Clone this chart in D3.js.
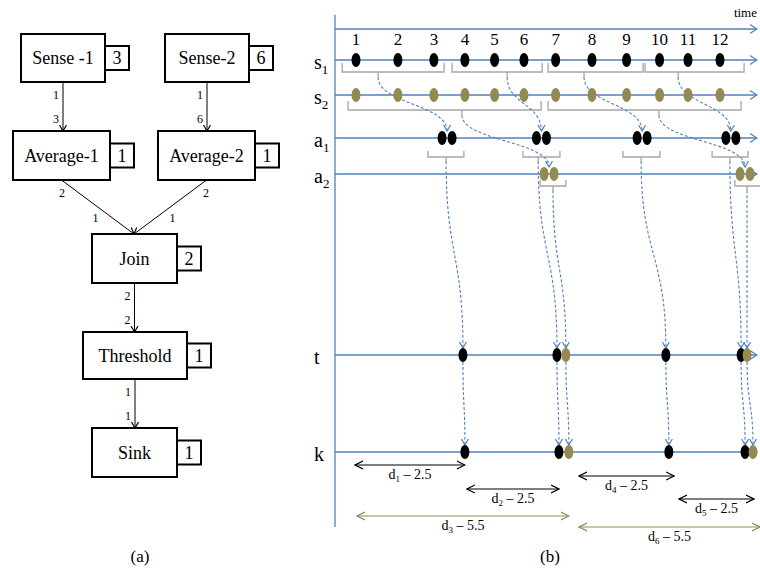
<!DOCTYPE html>
<html>
<head>
<meta charset="utf-8">
<script src="https://cdn.jsdelivr.net/npm/d3@7"></script>
<style>
  body { margin: 0; background: #fff; }
  svg text { font-family: "Liberation Serif", "Times New Roman", Times, "DejaVu Serif", serif; }
</style>
</head>
<body>
<svg id="chart" width="760" height="577"></svg>
<script>
// ---------- data: (a) operator graph ----------
const nodeNames  = ["Sense -1", "Sense-2", "Average-1", "Average-2", "Join", "Threshold", "Sink"];
const nodeCounts = [3, 6, 1, 1, 2, 1, 1];
const edgeList   = [[0, 2], [1, 3], [2, 4], [3, 4], [4, 5], [5, 6]];
const edgeOut    = [1, 1, 2, 2, 2, 1];
const edgeIn     = [3, 6, 1, 1, 2, 1];

// ---------- data: (b) timeline (time units) ----------
const tickLabels  = ["1", "2", "3", "4", "5", "6", "7", "8", "9", "10", "11", "12"];
const sampleTimes = [1.0, 2.27, 3.36, 4.3, 5.2, 6.09, 7.05, 8.15, 9.2, 10.2, 11.06, 12.03];
// windows: [from, to, tick]
const s1Windows = [[0.58, 3.67, 1.67], [3.91, 6.64, 5.58], [6.82, 9.7, 7.91], [9.76, 12.76, 10.76]];
const s2Windows = [[0.76, 6.61, 4.21], [6.82, 12.67, 10.18]];
const a1Windows = [[3.18, 4.27, 3.73], [6.06, 7.18, 6.52], [9.09, 10.21, 9.64], [11.79, 12.88, 12.33]];
const a2Windows = [[6.58, 7.36, 6.97], [12.48, 13.4, 12.85]];
const a1Outputs = [3.76, 6.62, 9.67, 12.36];
const a2Outputs = [6.85, 12.79];
const tBlack = [4.24, 7.09, 10.39, 12.67];
const tOlive = [7.36, 12.85];
const kBlack = [4.30, 7.15, 10.48, 12.79];
const kOlive = [7.45, 13.03];
// delays
const delayNames  = ["1", "2", "3", "4", "5", "6"];
const delayValues = [2.5, 2.5, 5.5, 2.5, 2.5, 5.5];
const delayFrom   = [0.97, 4.36, 1.03, 7.76, 10.79, 7.76];
const delayTo     = [4.30, 7.15, 7.45, 10.64, 13.06, 13.24];
const delayKind   = ["single", "single", "joint", "single", "single", "joint"];

// ---------- layout ----------
const nodeBoxes = [
  [21, 34, 84, 48], [165, 34, 84, 48],
  [13, 131, 97, 49], [158, 131, 97, 49],
  [92, 234, 85, 49], [83, 332, 104, 47], [92, 428, 85, 49]
];
const lane = { s1: 60, s2: 95, a1: 138, a2: 174, t: 355, k: 452 };
const delayRowY = [465, 489, 516, 476, 499, 527];

const BLUE = "#4f81bd", OLIVE = "#938953", GRAY = "#a6a6a6";
const SERIF = "'Liberation Serif', 'Times New Roman', Times, 'DejaVu Serif', serif";

const svg = d3.select("#chart").attr("font-family", SERIF);
const defs = svg.append("defs");

function chevron(id, color, len, half) {
  defs.append("marker")
    .attr("id", id)
    .attr("viewBox", `0 ${-half - 1} ${len + 1} ${2 * half + 2}`)
    .attr("refX", len).attr("refY", 0)
    .attr("markerUnits", "userSpaceOnUse")
    .attr("markerWidth", len + 1).attr("markerHeight", 2 * half + 2)
    .attr("orient", "auto-start-reverse")
    .append("path")
    .attr("d", `M0,${-half}L${len},0L0,${half}`)
    .attr("fill", "none").attr("stroke", color).attr("stroke-width", 1.2);
}
chevron("arBlack", "#000", 6, 3.5);
chevron("arBlue", BLUE, 6, 3.5);
chevron("arLane", BLUE, 7, 4.5);
chevron("arDimBlack", "#000", 8, 4);
chevron("arDimOlive", OLIVE, 8, 4);

// ================= (a) =================
const ga = svg.append("g");
const nodes = nodeNames.map((n, i) => {
  const [x, y, w, h] = nodeBoxes[i];
  return { name: n, count: nodeCounts[i], x, y, w, h, cx: x + w / 2 };
});

const edges = edgeList.map(([s, t], i) => ({
  s: nodes[s], t: nodes[t], out: edgeOut[i], inp: edgeIn[i]
}));

edges.forEach(e => {
  const sx = e.s.cx, sy = e.s.y + e.s.h, ty = e.t.y;
  let tx = e.t.cx;
  if (e.t.name === "Join") tx = 134;
  const vertical = Math.abs(tx - sx) < 5;
  if (vertical) tx = sx;
  ga.append("line")
    .attr("x1", sx).attr("y1", sy).attr("x2", tx).attr("y2", ty)
    .attr("stroke", "#000").attr("stroke-width", 1)
    .attr("marker-end", "url(#arBlack)");
  const lineX = y => sx + (tx - sx) * (y - sy) / (ty - sy);
  const dx = tx - sx;
  const yOut = sy + 17, yIn = ty - (vertical ? 8 : 12);
  [[yOut, e.out], [yIn, e.inp]].forEach(([y, v]) => {
    const t = ga.append("text").attr("y", y).attr("font-size", 12).text(v);
    if (vertical) t.attr("x", sx - 4).attr("text-anchor", "end");
    else t.attr("x", lineX(y - 4) - Math.sign(dx) * 17).attr("text-anchor", "middle");
  });
});

nodes.forEach(n => {
  ga.append("rect").attr("x", n.x).attr("y", n.y).attr("width", n.w).attr("height", n.h)
    .attr("fill", "#fff").attr("stroke", "#000").attr("stroke-width", 2);
  ga.append("text").attr("x", n.cx).attr("y", n.y + n.h / 2 + 6)
    .attr("text-anchor", "middle").attr("font-size", 18).text(n.name);
  const by = n.y + n.h / 2 - 12;
  ga.append("rect").attr("x", n.x + n.w).attr("y", by).attr("width", 24).attr("height", 24)
    .attr("fill", "#fff").attr("stroke", "#000").attr("stroke-width", 2);
  ga.append("text").attr("x", n.x + n.w + 12).attr("y", by + 18)
    .attr("text-anchor", "middle").attr("font-size", 18).text(n.count);
});

svg.append("text").attr("x", 140).attr("y", 562).attr("text-anchor", "middle")
  .attr("font-size", 17).text("(a)");

// ================= (b) =================
const gb = svg.append("g");
const x = d3.scaleLinear().domain([0, 13]).range([323, 752]);
const link = d3.linkVertical().x(d => d[0]).y(d => d[1]);

// axes
gb.append("line").attr("x1", 335).attr("x2", 335).attr("y1", 15).attr("y2", 527)
  .attr("stroke", BLUE).attr("stroke-width", 1.3);
gb.append("line").attr("x1", 335).attr("x2", 757).attr("y1", 29).attr("y2", 29)
  .attr("stroke", BLUE).attr("stroke-width", 1.3).attr("marker-end", "url(#arLane)");
gb.append("text").attr("x", 757).attr("y", 17).attr("text-anchor", "end")
  .attr("font-size", 13).text("time");

gb.selectAll(".tick").data(tickLabels).enter().append("text")
  .attr("x", (d, i) => x(sampleTimes[i])).attr("y", 45)
  .attr("text-anchor", "middle").attr("font-size", 17).text(d => d);

// lanes
const laneInfo = [["s", "1", lane.s1], ["s", "2", lane.s2], ["a", "1", lane.a1],
                  ["a", "2", lane.a2], ["t", "", lane.t], ["k", "", lane.k]];
laneInfo.forEach(([b, sub, y]) => {
  gb.append("line").attr("x1", 335).attr("x2", 757).attr("y1", y).attr("y2", y)
    .attr("stroke", BLUE).attr("stroke-width", 1.3).attr("marker-end", "url(#arLane)");
  const t = gb.append("text").attr("x", 314).attr("y", y + 9).attr("font-size", 20);
  t.append("tspan").text(b);
  if (sub) t.append("tspan").attr("font-size", 13).attr("dy", 5).text(sub);
});

// brackets
function brackets(wins, yTop, yBot, yTick) {
  wins.forEach(([a, b, c]) => {
    gb.append("path")
      .attr("d", `M${x(a)},${yTop}V${yBot}H${x(b)}V${yTop}M${x(c)},${yBot}V${yTick}`)
      .attr("fill", "none").attr("stroke", GRAY).attr("stroke-width", 1.3);
  });
}
brackets(s1Windows, 63, 72, 77);
brackets(s2Windows, 101, 110, 115);
brackets(a1Windows, 151, 157, 161);
brackets(a2Windows, 180, 186, 190);

// dashed flows
function flows(wins, y0, targets, y1) {
  wins.forEach((w, i) => {
    gb.append("path")
      .attr("d", link({ source: [x(w[2]), y0], target: [x(targets[i]), y1] }))
      .attr("fill", "none").attr("stroke", BLUE).attr("stroke-width", 1.1)
      .attr("stroke-dasharray", "3,2").attr("marker-end", "url(#arBlue)");
  });
}
flows(s1Windows, 77, a1Outputs, 131);
flows(s2Windows, 115, a2Outputs, 167);
flows(a1Windows, 161, tBlack, 348);
flows(a2Windows, 190, tOlive, 348);
flows(tBlack.map(v => [0, 0, v]), 362, kBlack, 445);
flows(tOlive.map(v => [0, 0, v]), 362, kOlive, 445);

// events
function dots(times, y, color, rx = 4.5, ry = 7) {
  times.forEach(t => {
    gb.append("ellipse").attr("cx", x(t)).attr("cy", y).attr("rx", rx).attr("ry", ry)
      .attr("fill", color);
  });
}
dots(sampleTimes, lane.s1, "#000");
dots(sampleTimes, lane.s2, OLIVE);
dots(a1Outputs.map(v => x.invert(x(v) - 5)), lane.a1, "#000");
dots(a1Outputs.map(v => x.invert(x(v) + 5)), lane.a1, "#000");
dots(a2Outputs.map(v => x.invert(x(v) - 5)), lane.a2, OLIVE);
dots(a2Outputs.map(v => x.invert(x(v) + 5)), lane.a2, OLIVE);
dots(tBlack, lane.t, "#000");
dots(tOlive, lane.t, OLIVE);
dots(kBlack, lane.k, "#000");
dots(kOlive, lane.k, OLIVE);

// delays
delayNames.forEach((n, i) => {
  const y = delayRowY[i];
  const joint = delayKind[i] === "joint";
  const col = joint ? OLIVE : "#000";
  const mk = joint ? "url(#arDimOlive)" : "url(#arDimBlack)";
  gb.append("line").attr("x1", x(delayFrom[i])).attr("x2", x(delayTo[i]))
    .attr("y1", y).attr("y2", y).attr("stroke", col).attr("stroke-width", 1.2)
    .attr("marker-start", mk).attr("marker-end", mk);
  const t = gb.append("text").attr("x", (x(delayFrom[i]) + x(delayTo[i])) / 2)
    .attr("y", y + 14).attr("text-anchor", "middle").attr("font-size", 14);
  t.append("tspan").text("d");
  t.append("tspan").attr("font-size", 9).attr("dy", 3).text(n);
  t.append("tspan").attr("dy", -3).text(" \u2013 " + delayValues[i]);
});

svg.append("text").attr("x", 550).attr("y", 562).attr("text-anchor", "middle")
  .attr("font-size", 17).text("(b)");
</script>
</body>
</html>
